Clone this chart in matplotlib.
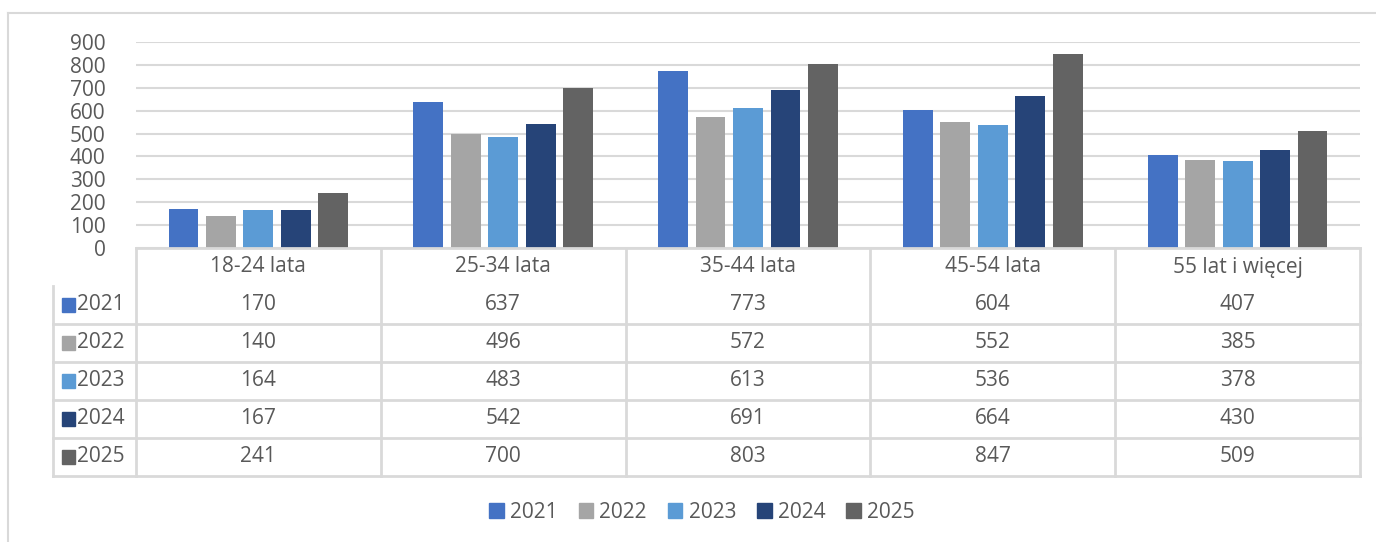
import matplotlib
matplotlib.use("Agg")
import matplotlib.pyplot as plt
from matplotlib.patches import Patch
from matplotlib.lines import Line2D
import numpy as np

plt.rcParams['font.family'] = ['Open Sans', 'DejaVu Sans']

categories = ["18-24 lata", "25-34 lata", "35-44 lata", "45-54 lata", "55 lat i więcej"]
years = ["2021", "2022", "2023", "2024", "2025"]
v2021 = [170, 637, 773, 604, 407]
v2022 = [140, 496, 572, 552, 385]
v2023 = [164, 483, 613, 536, 378]
v2024 = [167, 542, 691, 664, 430]
v2025 = [241, 700, 803, 847, 509]
series = [v2021, v2022, v2023, v2024, v2025]
colors = ["#4472C4", "#A5A5A5", "#5B9BD5", "#264478", "#636363"]

W, H = 1376, 542
fig = plt.figure(figsize=(W / 100, H / 100), dpi=100)
txt = "#595959"
grid_c = "#D9D9D9"
fs = 15


def fx(px):
    return px / W


def fy(py):
    return 1 - py / H


# outer frame (top and left only visible)
fig.add_artist(Line2D([fx(8), fx(W)], [fy(13), fy(13)], color=grid_c, lw=1.5))
fig.add_artist(Line2D([fx(8), fx(8)], [fy(13), fy(H)], color=grid_c, lw=1.5))

# bar area
x0, x1 = 136, 1360
ytop, ybot = 42, 248
ax = fig.add_axes([fx(x0), fy(ybot), fx(x1 - x0), (ybot - ytop) / H])
n = len(categories)
xs = np.arange(n) + 0.5
step = 0.153
bw = 0.122
for i, (vals, c) in enumerate(zip(series, colors)):
    ax.bar(xs + (i - 2) * step, vals, width=bw, color=c, zorder=3)
ax.set_xlim(0, n)
ax.set_ylim(0, 900)
ax.set_yticks(range(0, 901, 100))
ax.tick_params(axis='y', length=0, labelsize=fs, labelcolor=txt, pad=22)
ax.set_xticks([])
ax.yaxis.grid(True, color=grid_c, lw=1.5, zorder=0)
for s in ax.spines.values():
    s.set_visible(False)

# data table
tl = 53
tb = 476
rows = len(years) + 1
tax = fig.add_axes([fx(tl), fy(tb), fx(x1 - tl), (tb - ybot) / H])
left = -(x0 - tl) * n / (x1 - x0)
tax.set_xlim(left, n)
tax.set_ylim(0, rows)
tax.axis('off')
lc = dict(color=grid_c, lw=2, clip_on=False)
# top of header
tax.plot([0, n], [rows, rows], **lc)
for r in range(rows - 1):
    tax.plot([left, n], [r, r], **lc)
for k in range(n + 1):
    tax.plot([k, k], [0, rows], **lc)
tax.plot([left, left], [0, rows - 1], **lc)
for k, cat in enumerate(categories):
    tax.text(k + 0.5, rows - 0.5, cat, ha='center', va='center', fontsize=fs, color=txt)
for r, (yr, vals, c) in enumerate(zip(years, series, colors)):
    yc = rows - 1.5 - r
    tax.add_patch(plt.Rectangle((left + 0.035, yc - 0.19), 0.055, 0.38, color=c, clip_on=False))
    tax.text(left + 0.1, yc, yr, ha='left', va='center', fontsize=fs, color=txt)
    for k, v in enumerate(vals):
        tax.text(k + 0.5, yc, str(v), ha='center', va='center', fontsize=fs, color=txt)

handles = [Patch(color=c, label=y) for y, c in zip(years, colors)]
fig.legend(handles=handles, loc='center', bbox_to_anchor=(fx(702), fy(512)), ncol=5,
           frameon=False, fontsize=fs, labelcolor=txt, handlelength=0.7, handleheight=0.7,
           handletextpad=0.3, columnspacing=1.0)

fig.savefig("out.png", dpi=100)
